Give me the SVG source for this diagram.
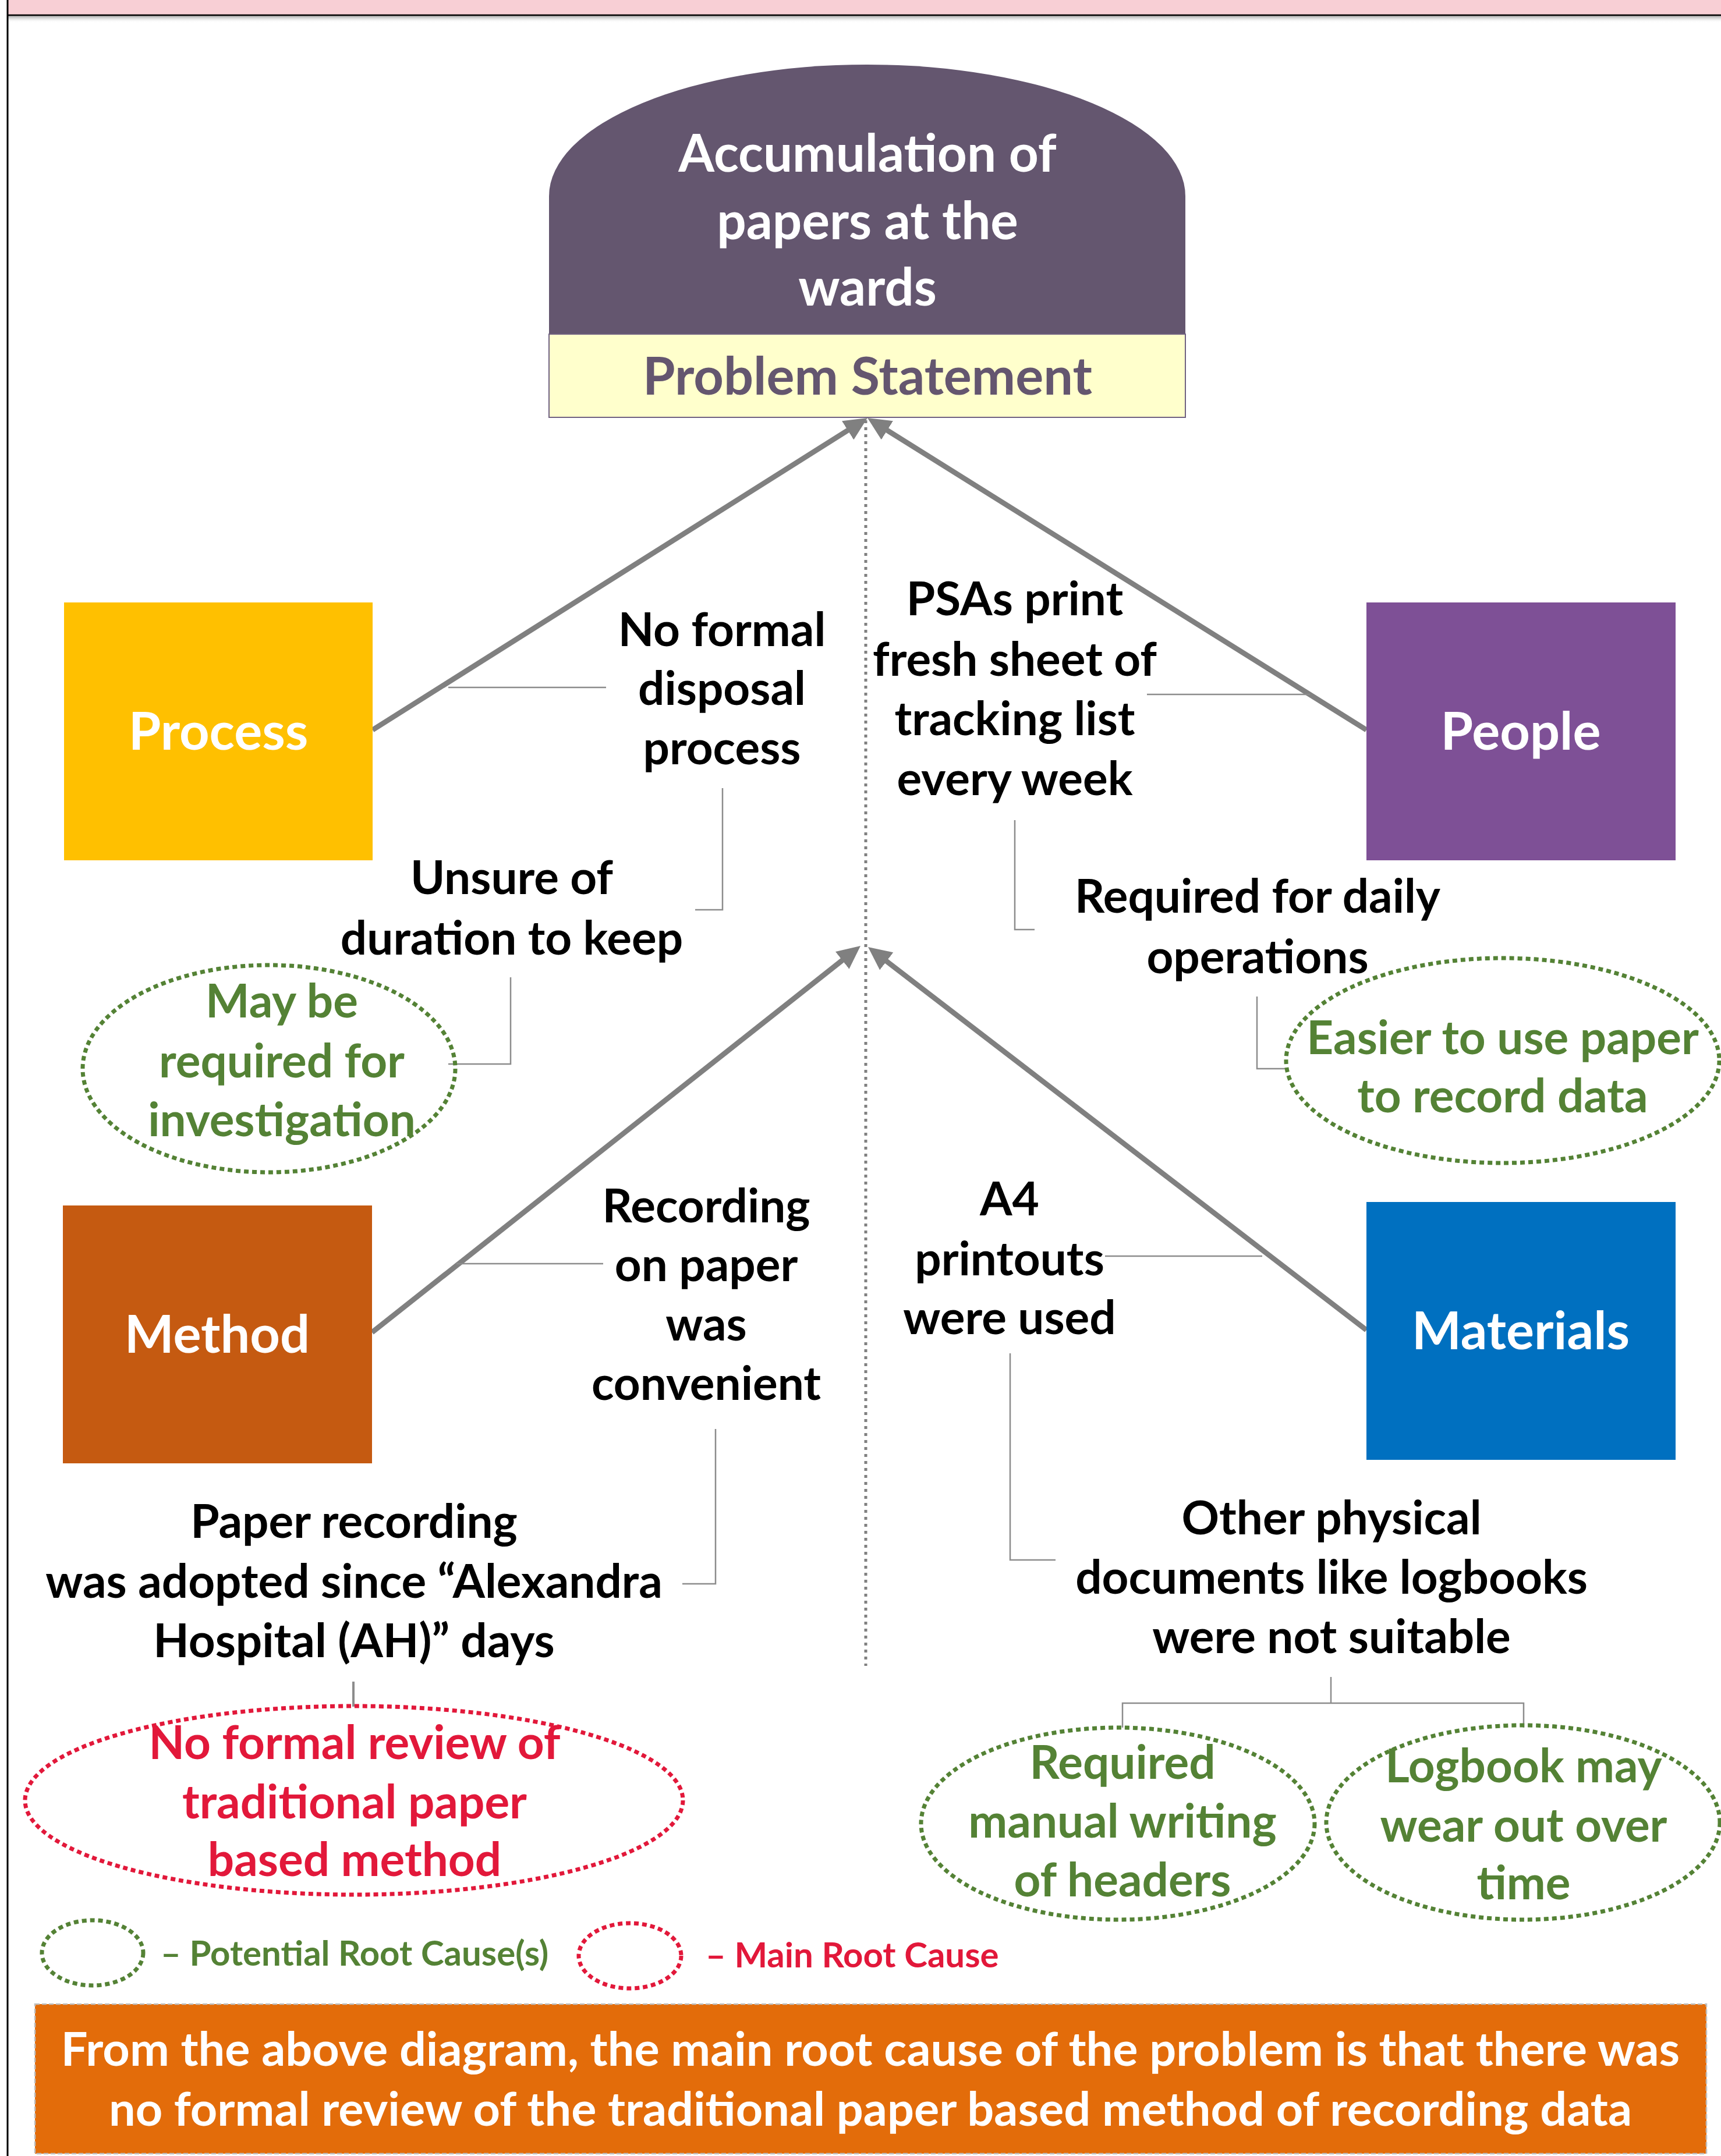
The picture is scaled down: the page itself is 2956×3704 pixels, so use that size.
<svg xmlns="http://www.w3.org/2000/svg" width="2956" height="3704" viewBox="0 0 2956 3704">
<style>
  text { font-family: Lato, "Open Sans", "Liberation Sans", sans-serif; font-weight: 700; text-anchor: middle; }
  .lbl { font-size: 80px; fill: #000000; }
  .grn { font-size: 80px; fill: #548235; }
  .red { font-size: 80px; fill: #E2183A; }
  .hdr { font-size: 90px; fill: #FFFFFF; }
  .ttl { font-size: 89px; fill: #FFFFFF; }
  .ps { font-size: 90px; fill: #64566F; }
  .leg { font-size: 60px; text-anchor: start; }
  .sum { font-size: 81px; fill: #FFFFFF; }
  .main { stroke: #808080; stroke-width: 9; fill: none; marker-end: url(#ah); }
  .thin { stroke: #8C8C8C; stroke-width: 2.5; fill: none; }
  .dotg { fill: none; stroke: #548235; stroke-width: 7; stroke-dasharray: 8 6; }
  .dotr { fill: none; stroke: #E2183A; stroke-width: 7; stroke-dasharray: 8 6; }
</style>
<defs>
  <marker id="ah" markerUnits="userSpaceOnUse" markerWidth="44" markerHeight="40" refX="10" refY="19" orient="auto">
    <path d="M0,0 L40,19 L0,38 Z" fill="#808080"/>
  </marker>
  <linearGradient id="shadow" x1="0" y1="0" x2="0" y2="1">
    <stop offset="0" stop-color="#7F7F7F" stop-opacity="0.7"/>
    <stop offset="1" stop-color="#FFFFFF" stop-opacity="0"/>
  </linearGradient>
</defs>
<rect x="0" y="0" width="2956" height="3704" fill="#FFFFFF"/>
<!-- frame -->
<rect x="13" y="0" width="2943" height="25" fill="#F8CFD5"/>
<rect x="13" y="27" width="2943" height="12" fill="url(#shadow)"/>
<line x1="13" y1="26" x2="2956" y2="26" stroke="#000000" stroke-width="2.5"/>
<line x1="13" y1="0" x2="13" y2="3704" stroke="#000000" stroke-width="3"/>

<!-- connectors -->
<g id="connectors">
  <line x1="1487" y1="722" x2="1487" y2="2862" stroke="#808080" stroke-width="5" stroke-dasharray="5 7"/>
  <line class="main" x1="640" y1="1254" x2="1464.6" y2="734"/>
  <line class="main" x1="2347" y1="1254" x2="1515.4" y2="734"/>
  <line class="main" x1="639" y1="2289" x2="1454.5" y2="1643.6"/>
  <line class="main" x1="2347" y1="2285" x2="1514.8" y2="1645.3"/>
  <line class="thin" x1="770" y1="1181" x2="1041" y2="1181"/>
  <polyline class="thin" points="1241,1354 1241,1563 1194,1563"/>
  <polyline class="thin" points="877,1679 877,1828 770,1828"/>
  <line class="thin" x1="1970" y1="1193" x2="2250" y2="1193"/>
  <polyline class="thin" points="1743,1409 1743,1597 1777,1597"/>
  <polyline class="thin" points="2159,1712 2159,1836 2209,1836"/>
  <line class="thin" x1="784" y1="2171" x2="1036" y2="2171"/>
  <polyline class="thin" points="1229,2455 1229,2721 1172,2721"/>
  <line x1="607" y1="2889" x2="607" y2="2932" stroke="#8C8C8C" stroke-width="4"/>
  <line class="thin" x1="1898" y1="2158" x2="2168" y2="2158"/>
  <polyline class="thin" points="1735,2325 1735,2680 1813,2680"/>
  <line class="thin" x1="2286" y1="2881" x2="2286" y2="2926"/>
  <polyline class="thin" points="1928,2968 1928,2926 2617,2926 2617,2968"/>
</g>

<!-- problem statement -->
<g id="problem">
  <path d="M943,574 L943,337 A546.5,226 0 0 1 2036,337 L2036,574 Z" fill="#64566F"/>
  <rect x="943" y="574" width="1093" height="143" fill="#FFFFCC" stroke="#6F6080" stroke-width="2"/>
  <text class="ttl" x="1490" y="295">Accumulation of</text>
  <text class="ttl" x="1490" y="411">papers at the</text>
  <text class="ttl" x="1490" y="525">wards</text>
  <text class="ps" x="1490" y="678">Problem Statement</text>
</g>

<g id="process">
  <rect x="110" y="1035" width="530" height="443" fill="#FFC000"/>
  <text class="hdr" x="375" y="1288">Process</text>
</g>
<g id="people">
  <rect x="2347" y="1035" width="531" height="443" fill="#7E5096"/>
  <text class="hdr" x="2612" y="1288">People</text>
</g>
<g id="method">
  <rect x="108" y="2071" width="531" height="443" fill="#C55A11"/>
  <text class="hdr" x="373" y="2324">Method</text>
</g>
<g id="materials">
  <rect x="2347" y="2065" width="531" height="443" fill="#0070C0"/>
  <text class="hdr" x="2612" y="2318">Materials</text>
</g>

<g id="no-formal-disposal">
  <text class="lbl" x="1240" y="1110">No formal</text>
  <text class="lbl" x="1240" y="1211">disposal</text>
  <text class="lbl" x="1240" y="1313">process</text>
</g>
<g id="unsure-duration">
  <text class="lbl" x="879" y="1536">Unsure of</text>
  <text class="lbl" x="879" y="1640">duration to keep</text>
</g>
<g id="may-be-required">
  <ellipse class="dotg" cx="462" cy="1836" rx="320" ry="178"/>
  <text class="grn" x="484" y="1748">May be</text>
  <text class="grn" x="484" y="1851">required for</text>
  <text class="grn" x="484" y="1952">investigation</text>
</g>
<g id="psas-print">
  <text class="lbl" x="1743" y="1057">PSAs print</text>
  <text class="lbl" x="1743" y="1161">fresh sheet of</text>
  <text class="lbl" x="1743" y="1263">tracking list</text>
  <text class="lbl" x="1743" y="1366">every week</text>
</g>
<g id="required-daily">
  <text class="lbl" x="2160" y="1568">Required for daily</text>
  <text class="lbl" x="2160" y="1672">operations</text>
</g>
<g id="easier-paper">
  <ellipse class="dotg" cx="2581" cy="1822" rx="372" ry="176"/>
  <text class="grn" x="2581" y="1811">Easier to use paper</text>
  <text class="grn" x="2581" y="1911">to record data</text>
</g>
<g id="recording-convenient">
  <text class="lbl" x="1213" y="2100">Recording</text>
  <text class="lbl" x="1213" y="2201">on paper</text>
  <text class="lbl" x="1213" y="2303">was</text>
  <text class="lbl" x="1213" y="2405">convenient</text>
</g>
<g id="paper-adopted">
  <text class="lbl" x="608" y="2642">Paper recording</text>
  <text class="lbl" x="608" y="2745">was adopted since “Alexandra</text>
  <text class="lbl" x="608" y="2847">Hospital (AH)” days</text>
</g>
<g id="no-formal-review">
  <ellipse class="dotr" cx="608" cy="3093" rx="565" ry="162"/>
  <text class="red" x="609" y="3022">No formal review of</text>
  <text class="red" x="609" y="3124">traditional paper</text>
  <text class="red" x="609" y="3223">based method</text>
</g>
<g id="a4-printouts">
  <text class="lbl" x="1734" y="2088">A4</text>
  <text class="lbl" x="1734" y="2191">printouts</text>
  <text class="lbl" x="1734" y="2292">were used</text>
</g>
<g id="other-documents">
  <text class="lbl" x="2287" y="2636">Other physical</text>
  <text class="lbl" x="2287" y="2738">documents like logbooks</text>
  <text class="lbl" x="2287" y="2840">were not suitable</text>
</g>
<g id="manual-writing">
  <ellipse class="dotg" cx="1920" cy="3133" rx="338" ry="165"/>
  <text class="grn" x="1928" y="3056">Required</text>
  <text class="grn" x="1928" y="3157">manual writing</text>
  <text class="grn" x="1928" y="3258">of headers</text>
</g>
<g id="logbook-wear">
  <ellipse class="dotg" cx="2616" cy="3131" rx="338" ry="167"/>
  <text class="grn" x="2617" y="3062">Logbook may</text>
  <text class="grn" x="2617" y="3164">wear out over</text>
  <text class="grn" x="2617" y="3263">time</text>
</g>

<g id="legend">
  <ellipse class="dotg" cx="159" cy="3355" rx="87" ry="56"/>
  <text class="leg" x="276" y="3377" fill="#548235">– Potential Root Cause(s)</text>
  <ellipse class="dotr" cx="1082" cy="3360" rx="88" ry="56"/>
  <text class="leg" x="1212" y="3380" fill="#E2183A">– Main Root Cause</text>
</g>

<g id="summary">
  <rect x="60" y="3443" width="2871" height="257" fill="#E36C0A" stroke="#BFBFBF" stroke-width="2.5" stroke-dasharray="8 4"/>
  <text class="sum" x="1495" y="3549">From the above diagram, the main root cause of the problem is that there was</text>
  <text class="sum" x="1495" y="3652">no formal review of the traditional paper based method of recording data</text>
</g>
</svg>
